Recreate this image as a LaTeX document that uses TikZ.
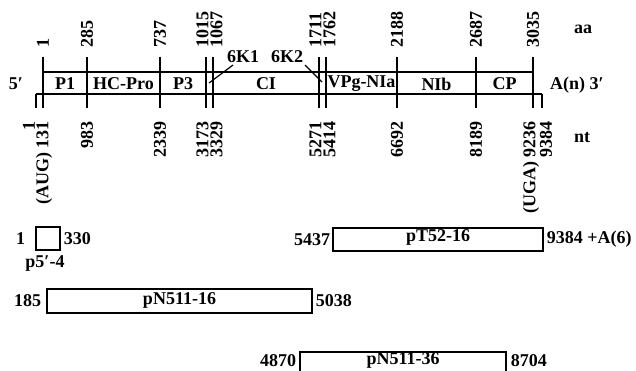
\documentclass[tikz,border=0pt]{standalone}
\usepackage{fontspec}
\setmainfont{Liberation Serif}
\begin{document}
\begin{tikzpicture}[x=1pt,y=-1pt,
  font=\bfseries\fontsize{18}{21}\selectfont,
  lbl/.style={inner sep=0pt},
  upnum/.style={rotate=90,inner sep=0pt,anchor=west},
  downnum/.style={rotate=90,inner sep=0pt,anchor=east},
  gene/.style={line width=1.8pt},
  clone/.style={draw,line width=1.4pt,inner sep=0pt},
  ptr/.style={line width=1.2pt}]
\clip (0,0) rectangle (636,371);
% genome map lines
\draw[gene] (43,72) -- (533,72);
\draw[gene] (36,94) -- (542,94);
\foreach \x in {43,87,160,206,213,319,326,397,476,533}
  \draw[gene] (\x,57) -- (\x,108);
\draw[gene] (36,94) -- (36,108);
\draw[gene] (542,94) -- (542,108);
% segment names
\node[lbl] (p1) at (65,84) {P1};
\node[lbl] (hc) at (123.5,84) {HC-Pro};
\node[lbl] (p3) at (183,84) {P3};
\node[lbl] (ci) at (266,84) {CI};
\node[lbl] (vpg) at (361.5,84) {VPg-NIa};
\node[lbl] (nib) at (436.5,84) {NIb};
\node[lbl] (cp) at (504.5,84) {CP};
\node[lbl] (five) at (16,84) {5′};
\node[lbl,anchor=west] (three) at (550,85) {A(n) 3′};
\node[lbl] (aa) at (583,29) {aa};
\node[lbl] (nt) at (582,138) {nt};
% 6K labels
\node[lbl] (k1) at (243,57) {6K1};
\node[lbl] (k2) at (287,57) {6K2};
\coordinate (k1end) at (209,83);
\coordinate (k2end) at (322,82);
\draw[ptr] (233,65) -- (k1end);
\draw[ptr] (305,65) -- (k2end);
% amino acid numbers
\node[upnum] (a1) at (43,48) {1};
\node[upnum] (a285) at (87,48) {285};
\node[upnum] (a737) at (160,48) {737};
\node[upnum] (a1015) at (202.5,48) {1015};
\node[upnum] (a1067) at (216.5,48) {1067};
\node[upnum] (a1711) at (315.5,48) {1711};
\node[upnum] (a1762) at (329.5,48) {1762};
\node[upnum] (a2188) at (397,48) {2188};
\node[upnum] (a2687) at (476,48) {2687};
\node[upnum] (a3035) at (533,48) {3035};
% nucleotide numbers
\node[downnum] (n1) at (29,121) {1};
\node[downnum] (n131) at (44,121) {(AUG) 131};
\node[downnum] (n983) at (87,121) {983};
\node[downnum] (n2339) at (160,121) {2339};
\node[downnum] (n3173) at (202.5,121) {3173};
\node[downnum] (n3329) at (216.5,121) {3329};
\node[downnum] (n5271) at (315.5,121) {5271};
\node[downnum] (n5414) at (329.5,121) {5414};
\node[downnum] (n6692) at (397,121) {6692};
\node[downnum] (n8189) at (476,121) {8189};
\node[downnum] (n9236) at (531,121) {(UGA) 9236};
\node[downnum] (n9384) at (546,121) {9384};
% clones
\node[clone,minimum width=24pt,minimum height=23pt] (c5) at (48,238.5) {};
\node[lbl,anchor=east] (c5l) at ([xshift=-10pt]c5.west) {1};
\node[lbl,anchor=west] (c5r) at ([xshift=3pt]c5.east) {330};
\node[lbl] (c5n) at (45,263) {p5′-4};

\node[clone,minimum width=210pt,minimum height=23pt] (t52) at (438,239.5) {};
\node[lbl] (t52n) at (438,237.5) {pT52-16};
\node[lbl,anchor=east] (t52l) at ([xshift=-2pt]t52.west) {5437};
\node[lbl,anchor=west] (t52r) at ([xshift=3pt]t52.east) {9384 +A(6)};

\node[clone,minimum width=265pt,minimum height=24pt] (n16) at (179.5,301) {};
\node[lbl] (n16n) at (179.5,300.5) {pN511-16};
\node[lbl,anchor=east] (n16l) at ([xshift=-5pt]n16.west) {185};
\node[lbl,anchor=west] (n16r) at ([xshift=3pt]n16.east) {5038};

\node[clone,minimum width=206pt,minimum height=23pt] (n36) at (403,363.5) {};
\node[lbl] (n36n) at (403,360.5) {pN511-36};
\node[lbl,anchor=east] (n36l) at ([xshift=-3pt,yshift=2.5pt]n36.west) {4870};
\node[lbl,anchor=west] (n36r) at ([xshift=4pt,yshift=2.5pt]n36.east) {8704};
\end{tikzpicture}
\end{document}
